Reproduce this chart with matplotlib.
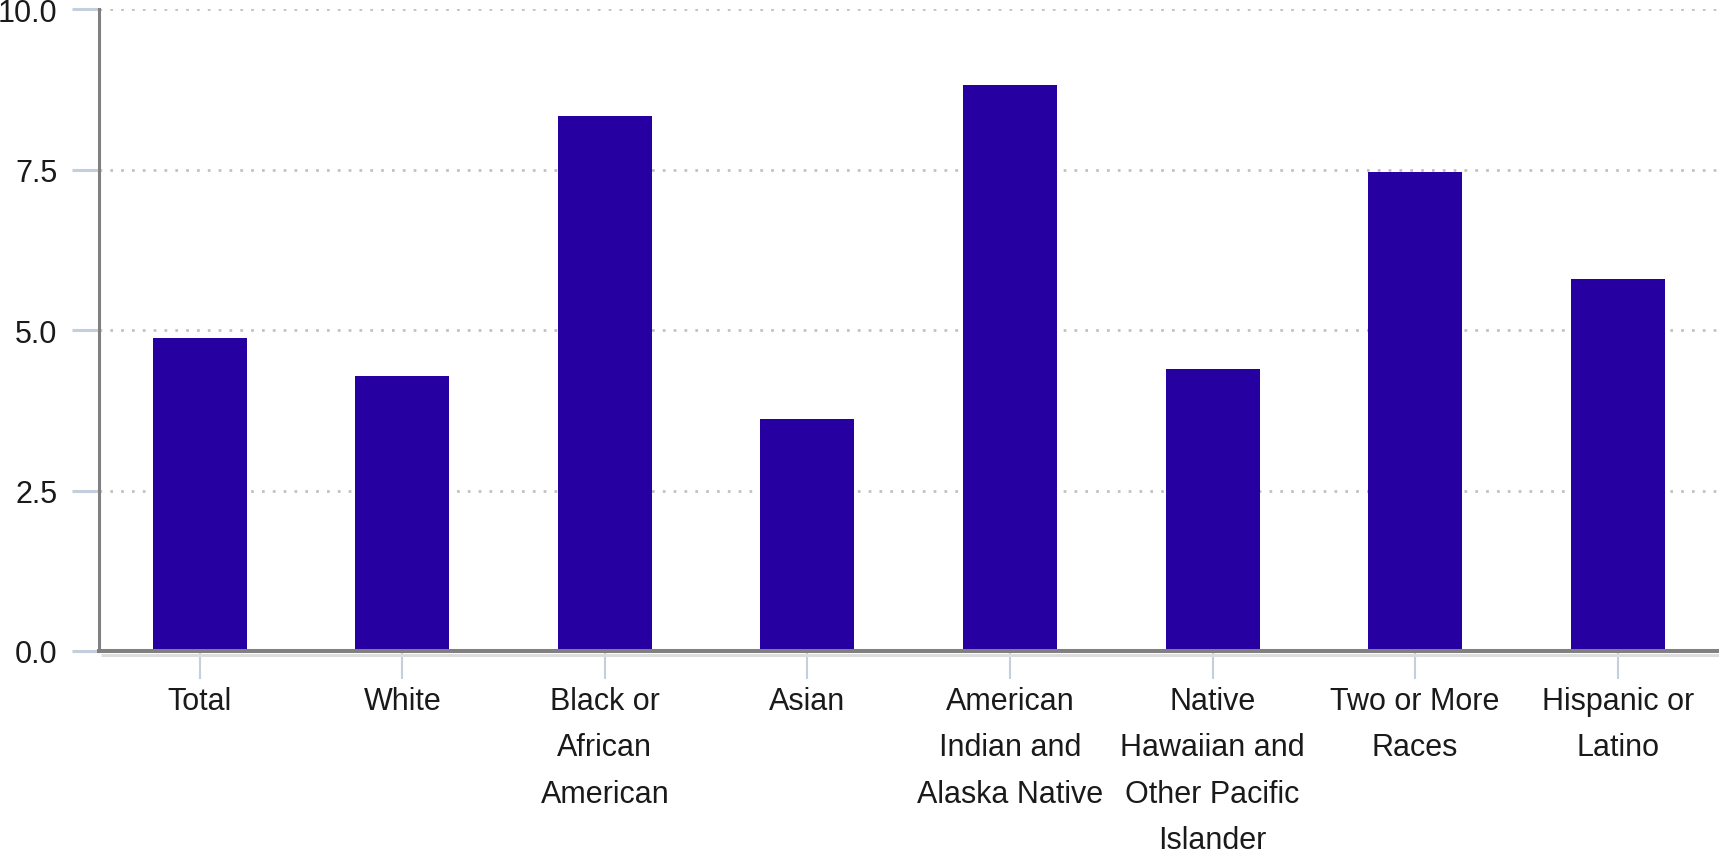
import numpy as np
import matplotlib
matplotlib.use("Agg")
import matplotlib.pyplot as plt
import matplotlib.transforms as mtransforms

# Du lieu cua bieu do
categories = ["Total", "White", "Black or\nAfrican\nAmerican", "Asian",
              "American\nIndian and\nAlaska Native",
              "Native\nHawaiian and\nOther Pacific\nIslander",
              "Two or More\nRaces", "Hispanic or\nLatino"]
values = [4.88, 4.29, 8.34, 3.62, 8.82, 4.40, 7.47, 5.80]
y_ticks = [0.0, 2.5, 5.0, 7.5, 10.0]
y_tick_labels = ["0.0", "2.5", "5.0", "7.5", "10.0"]

BAR_COLOR = "#2600A0"
AXIS_COLOR = "#808080"
TICK_COLOR = "#C3CFDF"
GRID_COLOR = "#C0C0C0"
TEXT_COLOR = "#1a1a1a"


def draw_chart():
    plt.rcParams['font.family'] = ['Liberation Sans', 'DejaVu Sans']
    fig = plt.figure(figsize=(17.19, 8.54), dpi=100)
    ax = fig.add_axes([98.5 / 1719, 202 / 854, 1 - 98.5 / 1719, (652 - 10.3) / 854])

    x = np.arange(len(categories))
    ax.bar(x, values, width=0.464, color=BAR_COLOR, zorder=3)

    ax.set_xlim(-0.5, len(categories) - 0.5)
    ax.set_ylim(0, 10)

    # Luoi ngang dang cham
    ax.set_yticks(y_ticks)
    ax.set_yticklabels(y_tick_labels)
    ax.yaxis.grid(True, color=GRID_COLOR, linewidth=1.95, linestyle=(0, (1, 3)), zorder=1)
    ax.xaxis.grid(False)

    ax.set_xticks(x)
    ax.set_xticklabels(categories, linespacing=1.72)

    # Truc va vach chia
    for side in ["top", "right"]:
        ax.spines[side].set_visible(False)
    ax.spines["left"].set_color(AXIS_COLOR)
    ax.spines["left"].set_linewidth(2.2)
    ax.spines["bottom"].set_color(AXIS_COLOR)
    ax.spines["bottom"].set_linewidth(2.9)
    ax.spines["bottom"].set_zorder(5)

    ax.tick_params(axis="y", direction="out", length=19.5, width=2.2, color=TICK_COLOR,
                   pad=10, labelsize=22, labelcolor=TEXT_COLOR)
    ax.tick_params(axis="x", direction="out", length=20, width=1.5, color=TICK_COLOR,
                   pad=5, labelsize=22, labelcolor=TEXT_COLOR)

    # Vien mo ben duoi truc x
    shadow = mtransforms.offset_copy(ax.transAxes, fig=fig, x=0, y=-3.5 / 100 * 72, units="points")
    ax.plot([0.0015, 1], [0, 0], color="#DDDDDD", linewidth=2.2, transform=shadow,
            clip_on=False, zorder=4, solid_capstyle="butt")

    fig.savefig("out.png", dpi=100)


def main():
    draw_chart()


if __name__ == "__main__":
    main()
